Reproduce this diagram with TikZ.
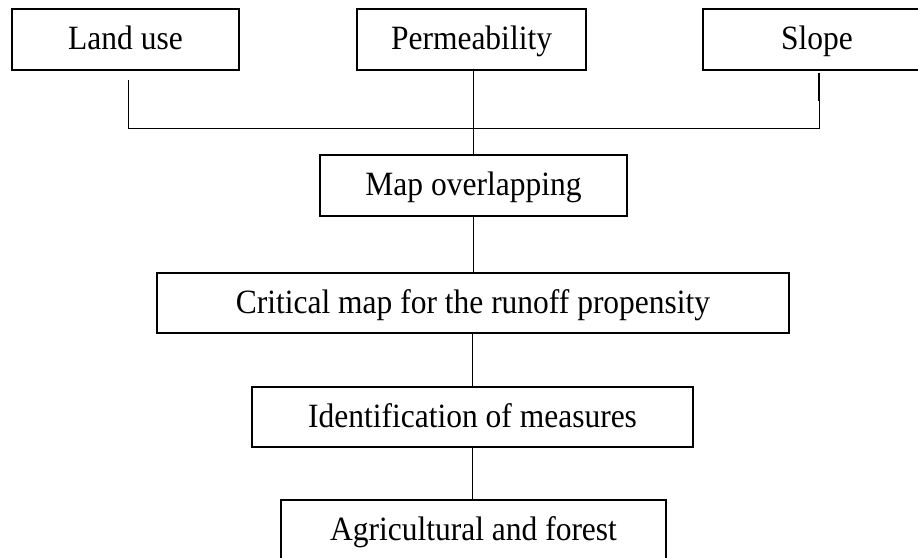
\documentclass[tikz,border=0pt]{standalone}
\usepackage{fontspec}
\setmainfont{Liberation Serif}
\begin{document}
\begin{tikzpicture}[x=1pt,y=-1pt,
  box/.style={draw=black,line width=1.6pt,rectangle,inner sep=0pt,
    font=\fontsize{31.5}{36}\selectfont,text height=20pt,text depth=0pt,
    align=center},
  link/.style={draw=black,line width=0.9pt}]
\useasboundingbox (0,0) rectangle (918,557);
\clip (0,0) rectangle (918,557);
\fill[white] (0,0) rectangle (918,557);
\node[box,minimum width=227pt,minimum height=61pt] (land) at (125.5,39.5) {\scalebox{1}[1.08]{Land use}};
\node[box,minimum width=229pt,minimum height=61pt] (perm) at (471.5,39.5) {\scalebox{1}[1.08]{Permeability}};
\node[box,minimum width=228pt,minimum height=61pt] (slope) at (817,39.5) {\scalebox{1}[1.08]{Slope}};
\node[box,minimum width=307pt,minimum height=61pt] (map) at (473.5,185.5) {\scalebox{1}[1.08]{Map overlapping}};
\node[box,minimum width=632pt,minimum height=60pt] (crit) at (473,303) {\scalebox{1}[1.08]{Critical map for the runoff propensity}};
\node[box,minimum width=441pt,minimum height=60pt] (ident) at (472.5,417) {\scalebox{1}[1.08]{Identification of measures}};
\node[box,minimum width=385pt,minimum height=61pt] (agri) at (473.5,530.5) {\scalebox{1}[1.08]{Agricultural and forest}};
\coordinate (j1) at (128,128);
\coordinate (j3) at (819,128);
\draw[link] ([yshift=-9pt]land.south -| j1) -- (j1) -- (j3) -- ([yshift=-2pt]slope.south -| j3);
\draw[line width=1.3pt] ([yshift=-2pt]slope.south -| j3) -- ([yshift=-30pt]slope.south -| j3);
\draw[link] (perm.south -| map.north) -- (map.north);
\draw[link] (map.south) -- (crit.north -| map.south);
\draw[link] (crit.south -| ident.north) -- (ident.north);
\draw[link] (ident.south) -- (agri.north -| ident.south);
\end{tikzpicture}
\end{document}
